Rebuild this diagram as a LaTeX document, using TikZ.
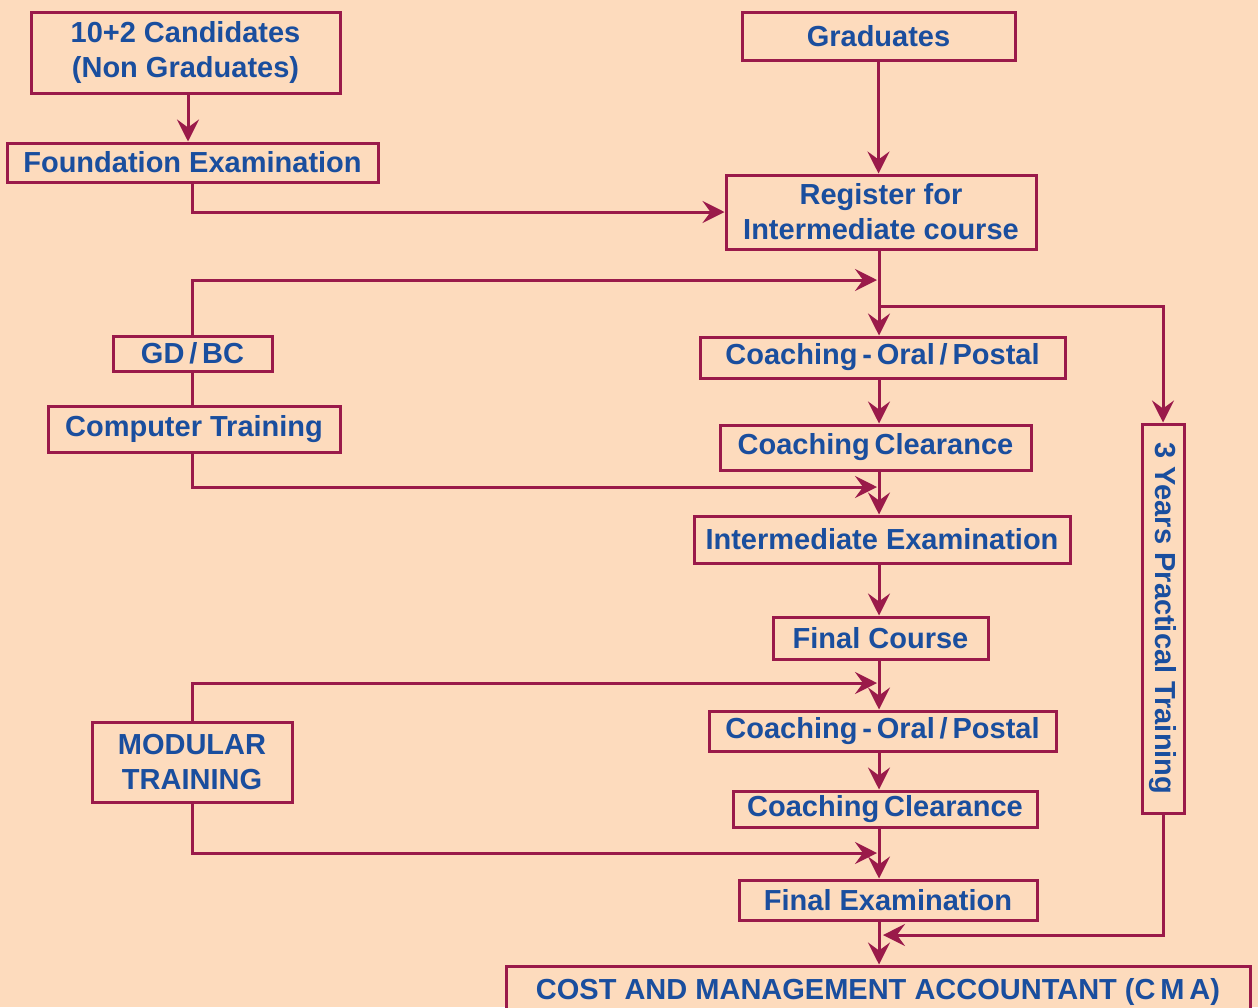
\documentclass[tikz,border=0pt]{standalone}
\usepackage{fontspec}
\setmainfont{Liberation Sans}
\usetikzlibrary{arrows.meta}
\definecolor{bgC}{HTML}{FDDBBD}
\definecolor{lineC}{HTML}{9A1A4A}
\definecolor{textC}{HTML}{1A4E9E}
\begin{document}
\begin{tikzpicture}[x=1pt,y=-1pt,
  box/.style={draw=lineC, line width=3pt, fill=bgC, text=textC,
    font=\bfseries\fontsize{29}{35}\selectfont, align=center, inner sep=0pt},
  arr/.style={draw=lineC, line width=3pt, -{Stealth[length=22pt,width=22pt,inset=8pt]}},
  conn/.style={draw=lineC, line width=3pt}]
\fill[bgC] (0,0) rectangle (1258,1007);
\useasboundingbox (0,0) rectangle (1258,1007);
% boxes
\node[box, minimum width=309pt, minimum height=81pt] (cand) at (185.5,52.5) {10+2 Candidates\\(Non Graduates)};
\node[box, minimum width=371pt, minimum height=39pt] (found) at (192.5,162.5) {Foundation Examination};
\node[box, minimum width=273pt, minimum height=48pt] (grad) at (878.5,36) {Graduates};
\node[box, minimum width=310pt, minimum height=74pt] (reg) at (881,212) {Register for\\Intermediate course};
\node[box, minimum width=365pt, minimum height=41pt] (co1) at (882.5,357.5) {Coaching\,-\,Oral\,/\,Postal};
\node[box, minimum width=311pt, minimum height=45pt] (cc1) at (875.5,447.5) {Coaching\,Clearance};
\node[box, minimum width=376pt, minimum height=47pt] (iex) at (882,539.5) {Intermediate Examination};
\node[box, minimum width=215pt, minimum height=42pt] (fc) at (880.5,638) {Final Course};
\node[box, minimum width=347pt, minimum height=40pt] (co2) at (882.5,731) {Coaching\,-\,Oral\,/\,Postal};
\node[box, minimum width=304pt, minimum height=36pt] (cc2) at (885,809) {Coaching\,Clearance};
\node[box, minimum width=298pt, minimum height=40pt] (fex) at (888,900) {Final Examination};
\node[box, minimum width=744pt, minimum height=52pt] (cma) at (878,992) {COST AND MANAGEMENT ACCOUNTANT (C\,M\,A)};
\node[box, minimum width=42pt, minimum height=389pt] (ty) at (1163,618.5) {\rotatebox{-90}{3 Years Practical Training}};
\node[box, minimum width=159pt, minimum height=35pt] (gd) at (192.5,353.5) {GD\,/\,BC};
\node[box, minimum width=292pt, minimum height=46pt] (comp) at (194,429) {Computer Training};
\node[box, minimum width=200pt, minimum height=80pt] (mod) at (192,762) {MODULAR\\TRAINING};
% junctions on the spine
\coordinate (j1) at (879,280);
\coordinate (j2) at (879,306);
\coordinate (j3) at (879,487);
\coordinate (j4) at (879,683);
\coordinate (j5) at (879,853);
\coordinate (j6) at (879,935);
% connectors
\draw[arr] (cand.south -| 188,0) -- (found.north -| 188,0);
\draw[arr] (found.south) |- (reg.west);
\draw[arr] (grad.south) -- (grad.south |- reg.north);
\draw[arr] (reg.south -| j1) -- (co1.north -| j1);
\draw[arr] (j2) -| (ty.north);
\draw[arr, shorten >=2pt] (gd.north) |- (j1);
\draw[conn] (gd.south) -- (gd.south |- comp.north);
\draw[arr, shorten >=2pt] (comp.south -| gd.south) |- (j3);
\draw[arr] (co1.south -| j1) -- (cc1.north -| j1);
\draw[arr] (cc1.south -| j1) -- (iex.north -| j1);
\draw[arr] (iex.south -| j1) -- (fc.north -| j1);
\draw[arr] (fc.south -| j1) -- (co2.north -| j1);
\draw[arr] (co2.south -| j1) -- (cc2.north -| j1);
\draw[arr] (cc2.south -| j1) -- (fex.north -| j1);
\draw[arr] (fex.south -| j1) -- (cma.north -| j1);
\draw[arr, shorten >=2pt] (mod.north) |- (j4);
\draw[arr, shorten >=2pt] (mod.south) |- (j5);
\draw[arr, shorten >=4pt] (ty.south) |- (j6);
\end{tikzpicture}
\end{document}
